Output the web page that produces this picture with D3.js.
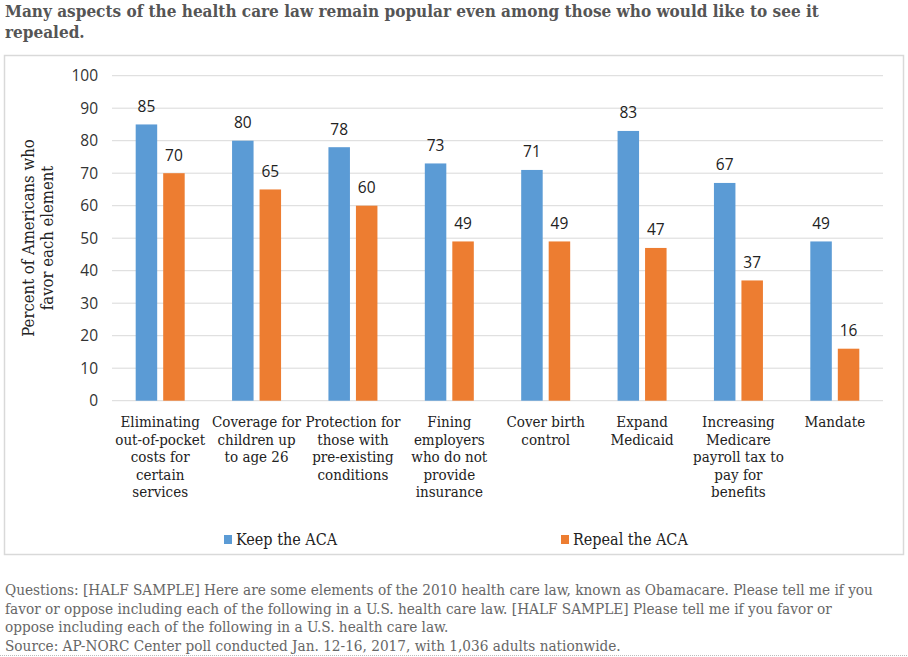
<!DOCTYPE html>
<html><head><meta charset="utf-8">
<script src="https://cdn.jsdelivr.net/npm/d3@7"></script>
<style>body{margin:0;background:#fff}svg{display:block}</style>
</head><body>
<svg id="c" width="908" height="657"></svg>
<script>
const categories = [
  ["Eliminating","out-of-pocket","costs for","certain","services"],
  ["Coverage for","children up","to age 26"],
  ["Protection for","those with","pre-existing","conditions"],
  ["Fining","employers","who do not","provide","insurance"],
  ["Cover birth","control"],
  ["Expand","Medicaid"],
  ["Increasing","Medicare","payroll tax to","pay for","benefits"],
  ["Mandate"]
];
const seriesNames = ["Keep the ACA","Repeal the ACA"];
const keepValues = [85,80,78,73,71,83,67,49];
const repealValues = [70,65,60,49,49,47,37,16];
const yTicks = [0,10,20,30,40,50,60,70,80,90,100];
const colors = ["#5B9BD5","#ED7D31"];
const titleLines = ["Many aspects of the health care law remain popular even among those who would like to see it","repealed."];
const noteLines = [
 "Questions: [HALF SAMPLE] Here are some elements of the 2010 health care law, known as Obamacare. Please tell me if you",
 "favor or oppose including each of the following in a U.S. health care law. [HALF SAMPLE] Please tell me if you favor or",
 "oppose including each of the following in a U.S. health care law.",
 "Source: AP-NORC Center poll conducted Jan. 12-16, 2017, with 1,036 adults nationwide."
];

const svg = d3.select("#c");
const slab = "'DejaVu Serif Condensed','DejaVu Serif',serif";
const sans = "'Open Sans','Noto Sans',sans-serif";

// title
svg.append("g").selectAll("text").data(titleLines).join("text")
  .attr("x",5).attr("y",(d,i)=>17+i*21)
  .attr("font-family",slab).attr("font-weight","bold").attr("font-size",17)
  .attr("fill","#555").text(d=>d);

// chart box
svg.append("rect").attr("x",4.5).attr("y",55.5).attr("width",899).attr("height",499)
  .attr("fill","none").attr("stroke","#d9d9d9").attr("stroke-width",1.5);

const x = d3.scaleBand().domain(d3.range(categories.length)).range([112,883]);
const y = d3.scaleLinear().domain([0,100]).range([400.7,75.7]);
const barW = 21.5, gap = 6;

// gridlines
svg.append("g").selectAll("line").data(yTicks).join("line")
  .attr("x1",112).attr("x2",883).attr("y1",d=>y(d)).attr("y2",d=>y(d))
  .attr("stroke","#d9d9d9").attr("stroke-width",1);

// y axis labels
const yAxis = d3.axisLeft(y).tickValues(yTicks).tickSize(0).tickPadding(0);
const ya = svg.append("g").attr("transform","translate(98,0)").call(yAxis);
ya.select(".domain").remove();
ya.selectAll("text").attr("font-family",sans).attr("font-size",15.5).attr("fill","#333");

// y title
svg.append("text").attr("transform","translate(38,238) rotate(-90)")
  .attr("text-anchor","middle").attr("font-family",slab).attr("font-size",16.5).attr("fill","#222")
  .selectAll("tspan").data(["Percent of Americans who","favor each element"]).join("tspan")
  .attr("x",0).attr("dy",(d,i)=>i?18.5:-4).text(d=>d);

// bars
const series = [keepValues, repealValues];
series.forEach((vals,s)=>{
  const g = svg.append("g");
  const bx = i => x(i)+x.bandwidth()/2 + (s===0 ? -gap/2-barW : gap/2);
  g.selectAll("rect").data(vals).join("rect")
    .attr("x",(d,i)=>bx(i)).attr("width",barW)
    .attr("y",d=>y(d)).attr("height",d=>y(0)-y(d)).attr("fill",colors[s]);
  g.selectAll("text").data(vals).join("text")
    .attr("x",(d,i)=>bx(i)+barW/2).attr("y",d=>y(d)-12.5)
    .attr("text-anchor","middle").attr("font-family",sans).attr("font-size",15.5).attr("fill","#222")
    .text(d=>d);
});

// category labels
const cl = svg.append("g").selectAll("text").data(categories).join("text")
  .attr("text-anchor","middle").attr("font-family",slab).attr("font-size",15).attr("fill","#222");
cl.each(function(lines,i){
  d3.select(this).selectAll("tspan").data(lines).join("tspan")
    .attr("x",x(i)+x.bandwidth()/2).attr("y",(d,j)=>427+j*17.5).text(d=>d);
});

// legend
const legX = [224,561];
seriesNames.forEach((n,s)=>{
  svg.append("rect").attr("x",legX[s]).attr("y",535).attr("width",8).attr("height",9).attr("fill",colors[s]);
  svg.append("text").attr("x",legX[s]+12).attr("y",545).attr("font-family",slab)
    .attr("font-size",16).attr("fill","#222").text(n);
});

// notes
svg.append("g").selectAll("text").data(noteLines).join("text")
  .attr("x",5).attr("y",(d,i)=>595+i*18.7)
  .attr("font-family",slab).attr("font-size",15.2).attr("fill","#666").text(d=>d);

svg.append("line").attr("x1",0).attr("x2",908).attr("y1",655.5).attr("y2",655.5)
  .attr("stroke","#bbb").attr("stroke-dasharray","1,1");
</script>
</body></html>
